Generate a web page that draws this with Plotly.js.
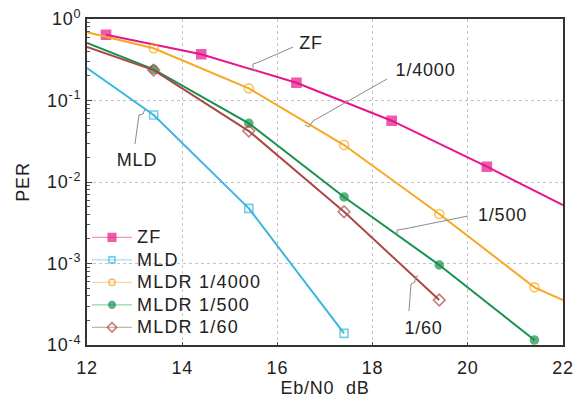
<!DOCTYPE html>
<html>
<head>
<meta charset="utf-8">
<script src="https://cdn.plot.ly/plotly-3.0.1.min.js"></script>
<style>
html,body{margin:0;padding:0;background:#fff;}
#chart{width:584px;height:401px;}
#chart text{letter-spacing:0.8px;}
#chart .legendtext{letter-spacing:1.2px; font-size:18px !important;}
#chart .legend .scrollbox{clip-path:none !important;}
#chart .legendlines path{stroke-opacity:0.45 !important; stroke-width:1.2px !important;}
</style>
</head>
<body>
<div id="chart"></div>
<script>
// Data (Eb/N0 in dB, PER)
var zfX = [12.4, 14.4, 16.4, 18.4, 20.4, 22];
var zfY = [0.64, 0.369, 0.165, 0.0565, 0.0154, 0.0052];
var zfSize = [9, 9, 9, 9, 9, 0];

var mldX = [12, 13.4, 15.4, 17.4];
var mldY = [0.25, 0.0664, 0.00475, 0.000139];
var mldSize = [0, 8, 8, 8];

var r4000X = [12, 13.4, 15.4, 17.4, 19.4, 21.4, 22];
var r4000Y = [0.69, 0.437, 0.141, 0.0284, 0.00405, 0.00051, 0.000356];
var r4000Size = [0, 9, 9, 9, 9, 9, 0];

var r500X = [12, 13.4, 15.4, 17.4, 19.4, 21.4];
var r500Y = [0.508, 0.241, 0.0525, 0.00655, 0.00096, 0.000115];
var r500Size = [0, 8, 8, 8, 8, 8];

var r60X = [12, 13.4, 15.4, 17.4, 19.4];
var r60Y = [0.453, 0.236, 0.0422, 0.00432, 0.000356];
var r60Size = [0, 9, 9, 9, 9];

var xTickVals = [12, 14, 16, 18, 20, 22];
var yTickVals = [1e-4, 1e-3, 1e-2, 1e-1, 1];
var yTickText = ['10<sup>-4</sup>', '10<sup>-3</sup>', '10<sup>-2</sup>', '10<sup>-1</sup>', '10<sup>0</sup>'];
var yMinor = [];
[1e-4, 1e-3, 1e-2, 1e-1].forEach(function(d){ for (var k = 2; k <= 9; k++) yMinor.push(d * k); });

var labelTexts = ['ZF', '1/4000', 'MLD', '1/500', '1/60'];

var FONT = 'Liberation Sans, Arial, Helvetica, sans-serif';
var TXT = '#222';

function tr(name, x, y, sizes, color, symbol) {
  return {
    type: 'scatter', mode: 'lines+markers', name: name, x: x, y: y,
    line: {color: color, width: 2},
    marker: {color: color, symbol: symbol, size: sizes, line: {color: color, width: 1.6}}
  };
}

var data = [
  tr('ZF', zfX, zfY, zfSize, '#e8158a', 'square'),
  tr('MLD', mldX, mldY, mldSize, '#3cb6de', 'square-open'),
  tr('MLDR 1/4000', r4000X, r4000Y, r4000Size, '#f7a823', 'circle-open'),
  tr('MLDR 1/500', r500X, r500Y, r500Size, '#17924e', 'circle'),
  tr('MLDR 1/60', r60X, r60Y, r60Size, '#ad4747', 'diamond-open')
];

// plot-area pixel geometry (for leader-line decorations)
var M = {l: 87, r: 21, t: 19, b: 56};
var PW = 584 - M.l - M.r, PH = 401 - M.t - M.b;
function px(x) { return ((x - M.l) / PW).toFixed(4); }
function py(y) { return ((401 - M.b - y) / PH).toFixed(4); }
function pathOf(pts) {
  return pts.map(function(p, i){ return (i ? 'L' : 'M') + px(p[0]) + ',' + py(p[1]); }).join(' ');
}
var leaders = [
  [[293,47],[259,62],[253,64],[253,70],[257,70]],
  [[387,79],[313,121],[309,127],[305,125]],
  [[135,144],[139,115],[143,114],[145,109]],
  [[468,216],[404,229],[397,230],[397,235]],
  [[409,311],[411,284],[415,282],[415,277],[418,276]]
];
var labelPos = [[311,43],[425,70],[137,160],[503,215],[423,328]];

var shapes = leaders.map(function(pts){
  return {type: 'path', xref: 'paper', yref: 'paper', path: pathOf(pts),
    line: {color: '#8a8a8a', width: 1}};
});
var annotations = labelTexts.map(function(t, i){
  return {xref: 'paper', yref: 'paper', x: +px(labelPos[i][0]), y: +py(labelPos[i][1]),
    xanchor: 'center', yanchor: 'middle', text: t, showarrow: false,
    font: {family: FONT, size: 18, color: TXT}};
});

var layout = {
  width: 584, height: 401,
  margin: M,
  paper_bgcolor: '#fff', plot_bgcolor: '#fff',
  font: {family: FONT, size: 18, color: TXT},
  showlegend: true,
  legend: {x: 0.0, y: 0.38, xanchor: 'left', yanchor: 'top', bgcolor: 'rgba(0,0,0,0)',
    font: {family: FONT, size: 15, color: TXT}, tracegroupgap: 0, itemwidth: 40},
  xaxis: {
    range: [12, 22], tickmode: 'array', tickvals: xTickVals,
    showline: true, linecolor: '#333', linewidth: 2, mirror: true,
    ticks: 'inside', ticklen: 3, tickcolor: '#555',
    showgrid: true, gridcolor: '#c4c4c4', griddash: 'dot', gridwidth: 1,
    zeroline: false, ticklabelstandoff: 5,
    title: {text: 'Eb/N0  dB', font: {family: FONT, size: 18, color: TXT}, standoff: 3},
    tickfont: {family: FONT, size: 18, color: TXT}
  },
  yaxis: {
    type: 'log', range: [-4, 0],
    tickmode: 'array', tickvals: yTickVals, ticktext: yTickText,
    showline: true, linecolor: '#333', linewidth: 2, mirror: true,
    ticks: 'inside', ticklen: 5, tickcolor: '#444',
    minor: {tickmode: 'array', tickvals: yMinor, ticks: 'inside', ticklen: 3, tickcolor: '#555', showgrid: false},
    showgrid: true, gridcolor: '#c4c4c4', griddash: 'dot', gridwidth: 1,
    zeroline: false,
    title: {text: 'PER', font: {family: FONT, size: 18, color: TXT}, standoff: 16},
    tickfont: {family: FONT, size: 18, color: TXT}
  },
  shapes: shapes,
  annotations: annotations
};

Plotly.newPlot('chart', data, layout, {displayModeBar: false, staticPlot: true});
</script>
</body>
</html>
